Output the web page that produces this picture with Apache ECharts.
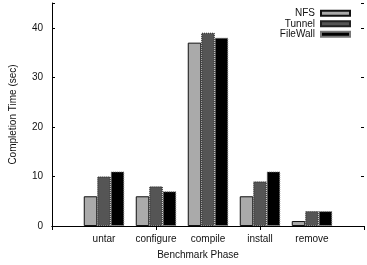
<!DOCTYPE html>
<html>
<head>
<meta charset="utf-8">
<script src="https://cdn.jsdelivr.net/npm/echarts@6/dist/echarts.min.js"></script>
<style>
html, body { margin: 0; padding: 0; background: #fff; }
#main { width: 367px; height: 265px; }
</style>
</head>
<body>
<div id="main"></div>
<script>
// phases (empty slots at both ends give the gnuplot-style padding)
let phases = ['', 'untar', 'configure', 'compile', 'install', 'remove', ''];
let nfs      = ['-', 6, 6, 37, 6, 1, '-'];
let tunnel   = ['-', 10, 8, 39, 9, 3, '-'];
let filewall = ['-', 11, 7, 38, 11, 3, '-'];
let yTicks = [0, 10, 20, 30, 40];

let font = 'Liberation Sans';
let chart = echarts.init(document.getElementById('main'));

let option = {
	animation: false,
	grid: { left: 50, right: 1, top: 3, bottom: 37 },
	legend: {
		orient: 'vertical',
		right: 11,
		top: 3,
		align: 'right',
		icon: 'rect',
		itemWidth: 29,
		itemHeight: 5,
		itemGap: 0,
		textStyle: { fontFamily: font, fontSize: 10, color: '#111', lineHeight: 10.5, padding: [0, 1, 0, 0] },
		data: ['NFS', 'Tunnel', 'FileWall']
	},
	xAxis: [{
		type: 'category',
		data: phases,
		boundaryGap: false,
		name: 'Benchmark Phase',
		nameLocation: 'middle',
		nameGap: 24,
		nameTextStyle: { fontFamily: font, fontSize: 10, color: '#111', padding: [0, 20, 0, 0] },
		axisLine: { lineStyle: { color: '#000', width: 1 } },
		axisTick: { show: false },
		axisLabel: { fontFamily: font, fontSize: 10, color: '#111', margin: 8, interval: 0 },
		splitLine: { show: false }
	}, {
		type: 'category',
		data: phases,
		boundaryGap: false,
		position: 'top',
		axisLine: { lineStyle: { color: '#000', width: 1 } },
		axisTick: { inside: true, length: 4, lineStyle: { color: '#000' } },
		axisLabel: { show: false }
	}],
	yAxis: [{
		type: 'value',
		min: 0,
		max: 45,
		interval: 10,
		name: 'Completion Time (sec)',
		nameLocation: 'middle',
		nameGap: 34,
		nameTextStyle: { fontFamily: font, fontSize: 10, color: '#111' },
		axisLine: { show: true, lineStyle: { color: '#000', width: 1 } },
		axisTick: { show: true, inside: true, length: 3, lineStyle: { color: '#000' } },
		axisLabel: {
			fontFamily: font, fontSize: 10, color: '#111', margin: 9,
			formatter: function (v) { return yTicks.indexOf(v) >= 0 ? v : ''; }
		},
		splitLine: { show: false }
	}, {
		type: 'value',
		min: 0,
		max: 45,
		interval: 10,
		position: 'right',
		axisLine: { show: false },
		axisTick: { show: true, inside: true, length: 3, lineStyle: { color: '#000' } },
		axisLabel: { show: false },
		splitLine: { show: false }
	}],
	series: [{
		name: 'NFS',
		type: 'bar',
		data: nfs,
		barWidth: 13.5,
		barGap: '0%',
		itemStyle: { color: '#aaaaaa', borderColor: '#111', borderWidth: 1 }
	}, {
		name: 'Tunnel',
		type: 'bar',
		data: tunnel,
		barWidth: 13.5,
		barGap: '0%',
		itemStyle: { color: '#555555', borderColor: '#222', borderWidth: 1, borderType: 'dotted' }
	}, {
		name: 'FileWall',
		type: 'bar',
		data: filewall,
		barWidth: 13.5,
		barGap: '0%',
		itemStyle: { color: '#000000', borderColor: '#777', borderWidth: 1, borderType: 'dotted' }
	}]
};

chart.setOption(option);
</script>
</body>
</html>
